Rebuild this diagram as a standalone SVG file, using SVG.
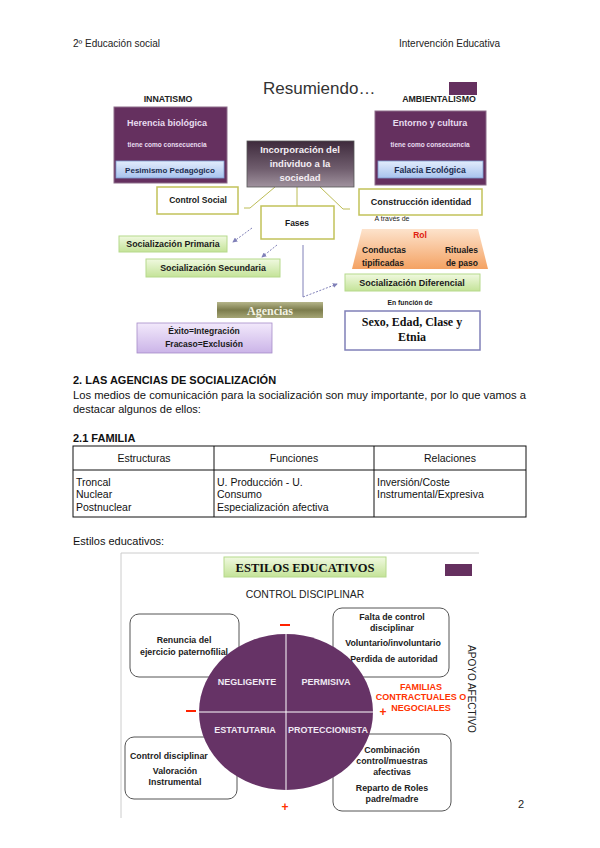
<svg xmlns="http://www.w3.org/2000/svg" width="600" height="848" viewBox="0 0 600 848">
<defs>
<linearGradient id="gBlue" x1="0" y1="0" x2="0" y2="1"><stop offset="0" stop-color="#e2ecfc"/><stop offset="1" stop-color="#a8c3ee"/></linearGradient>
<linearGradient id="gCenter" x1="0" y1="0" x2="0" y2="1"><stop offset="0" stop-color="#3e2a3c"/><stop offset="0.6" stop-color="#6f5d6d"/><stop offset="1" stop-color="#a0929e"/></linearGradient>
<linearGradient id="gGreen" x1="0" y1="0" x2="0" y2="1"><stop offset="0" stop-color="#f0f9e0"/><stop offset="1" stop-color="#c4e398"/></linearGradient>
<linearGradient id="gOlive" x1="0" y1="0" x2="0" y2="1"><stop offset="0" stop-color="#b5b58a"/><stop offset="0.5" stop-color="#7c7c4c"/><stop offset="1" stop-color="#a5a575"/></linearGradient>
<linearGradient id="gLav" x1="0" y1="0" x2="0" y2="1"><stop offset="0" stop-color="#f2e9fb"/><stop offset="1" stop-color="#cbb4e8"/></linearGradient>
<linearGradient id="gOrange" x1="0" y1="0" x2="0" y2="1"><stop offset="0" stop-color="#fde3cc"/><stop offset="1" stop-color="#f4a263"/></linearGradient>
<marker id="arr" viewBox="0 0 6 6" refX="5" refY="3" markerWidth="5" markerHeight="5" orient="auto"><path d="M0,0 L6,3 L0,6 z" fill="#8080b8"/></marker>
<style>
.sans{font-family:"Liberation Sans",Arial,sans-serif;}
.serif{font-family:"Liberation Serif","Times New Roman",serif;}
.hdr{font-size:10px;fill:#222;}
.body{font-size:11px;fill:#111;}
.b{font-weight:bold;}
.purple{fill:#65305f;stroke:#8d6c8a;stroke-width:1;}
.wt{fill:#e8dcef;font-weight:bold;}
.dk{fill:#1a1a1a;font-weight:bold;}
.olivebox{fill:#fff;stroke:#c2c25a;stroke-width:1.5;}
.greenbox{fill:url(#gGreen);stroke:#b6d98c;stroke-width:1;}
.conn{stroke:#bcbc55;stroke-width:1;fill:none;}
.dash{stroke:#8080b8;stroke-width:1;stroke-dasharray:2,1.5;fill:none;}
.vline{stroke:#8080b8;stroke-width:1;fill:none;}
.rbox{fill:#fff;stroke:#555;stroke-width:1;}
.rt{font-size:8.8px;fill:#222;font-weight:bold;}
.red{fill:#ff3300;font-weight:bold;}
.cell{font-size:10.5px;fill:#111;}
</style>
</defs>

<!-- page header -->
<g id="header" class="sans hdr">
<text x="73" y="47">2º Educación social</text>
<text x="399" y="47">Intervención Educativa</text>
</g>

<!-- top diagram -->
<text x="263" y="94" class="sans" font-size="17" fill="#333">Resumiendo…</text>
<text x="168" y="102" class="sans b" font-size="8.8" fill="#222" text-anchor="middle">INNATISMO</text>
<text x="439" y="102" class="sans b" font-size="8.8" fill="#222" text-anchor="middle">AMBIENTALISMO</text>
<rect x="449" y="82" width="28" height="13" fill="#65305f"/>

<g id="connectors">
<polyline class="conn" points="275,187 250,208 244,208"/>
<line class="conn" x1="297" y1="187" x2="297" y2="206"/>
<polyline class="conn" points="320,187 343,209 350,209"/>
<line class="dash" x1="252" y1="228" x2="233" y2="242" marker-end="url(#arr)"/>
<line class="dash" x1="277" y1="245" x2="262" y2="257" marker-end="url(#arr)"/>
<line class="vline" x1="303" y1="245" x2="303" y2="297"/>
<line class="dash" x1="303" y1="297" x2="337" y2="284" marker-end="url(#arr)"/>
</g>

<g id="innatismo">
<rect class="purple" x="114" y="107" width="113" height="76"/>
<text x="167" y="126" class="sans wt" font-size="9" text-anchor="middle">Herencia biológica</text>
<text x="167" y="147" class="sans" font-size="6.5" fill="#e8dcef" font-weight="bold" text-anchor="middle">tiene como consecuencia</text>
<rect x="116" y="161" width="108" height="17" fill="url(#gBlue)" stroke="#7d9dd0" stroke-width="0.8"/>
<text x="170" y="173" class="sans" font-size="8" font-weight="bold" fill="#1c2d50" text-anchor="middle">Pesimismo Pedagógico</text>
</g>

<g id="ambientalismo">
<rect class="purple" x="375" y="111" width="111" height="74"/>
<text x="430" y="126" class="sans wt" font-size="9" text-anchor="middle">Entorno y cultura</text>
<text x="430" y="147" class="sans" font-size="6.5" fill="#e8dcef" font-weight="bold" text-anchor="middle">tiene como consecuencia</text>
<rect x="378" y="161" width="105" height="17" fill="url(#gBlue)" stroke="#7d9dd0" stroke-width="0.8"/>
<text x="430" y="173" class="sans" font-size="8.5" font-weight="bold" fill="#1c2d50" text-anchor="middle">Falacia Ecológica</text>
</g>

<g id="incorporacion">
<rect x="247" y="141" width="107" height="46" fill="url(#gCenter)" stroke="#555" stroke-width="0.8"/>
<text x="300" y="153" class="sans b" font-size="9.5" fill="#f4eef4" text-anchor="middle">Incorporación del</text>
<text x="300" y="167" class="sans b" font-size="9.5" fill="#f4eef4" text-anchor="middle">individuo a la</text>
<text x="300" y="181" class="sans b" font-size="9.5" fill="#f4eef4" text-anchor="middle">sociedad</text>
</g>

<g id="control-social">
<rect class="olivebox" x="157" y="187" width="81" height="27"/>
<text x="198" y="203" class="sans dk" font-size="8.5" text-anchor="middle">Control Social</text>
</g>

<g id="fases">
<rect class="olivebox" x="261" y="206" width="73" height="33"/>
<text x="297" y="226" class="sans dk" font-size="8.5" text-anchor="middle">Fases</text>
</g>

<g id="construccion">
<rect class="olivebox" x="359" y="189" width="123" height="26"/>
<text x="421" y="205" class="sans dk" font-size="9" text-anchor="middle">Construcción identidad</text>
<text x="392" y="221" class="sans" font-size="7" fill="#222" text-anchor="middle">A través de</text>
</g>

<g id="soc-primaria">
<rect class="greenbox" x="119" y="236" width="108" height="16"/>
<text x="173" y="247" class="sans dk" font-size="8.8" text-anchor="middle">Socialización Primaria</text>
</g>

<g id="soc-secundaria">
<rect class="greenbox" x="146" y="259" width="134" height="18"/>
<text x="213" y="271" class="sans dk" font-size="8.8" text-anchor="middle">Socialización Secundaria</text>
</g>

<g id="rol">
<polygon points="362,229 478,229 488,269 352,269" fill="url(#gOrange)"/>
<text x="420" y="238" class="sans" font-size="8.5" font-weight="bold" fill="#e02010" text-anchor="middle">Rol</text>
<text x="362" y="253" class="sans dk" font-size="8.5">Conductas</text>
<text x="362" y="266" class="sans dk" font-size="8.5">tipificadas</text>
<text x="478" y="253" class="sans dk" font-size="8.5" text-anchor="end">Rituales</text>
<text x="478" y="266" class="sans dk" font-size="8.5" text-anchor="end">de paso</text>
</g>

<g id="soc-diferencial">
<rect class="greenbox" x="345" y="274" width="135" height="17"/>
<text x="412" y="286" class="sans dk" font-size="9" text-anchor="middle">Socialización Diferencial</text>
<text x="410" y="305" class="sans" font-size="6.8" fill="#222" font-weight="bold" text-anchor="middle">En función de</text>
</g>

<g id="agencias">
<rect x="217" y="302" width="106" height="16" fill="url(#gOlive)"/>
<text x="270" y="314.5" class="serif b" font-size="12" fill="#f2f2e4" text-anchor="middle">Agencias</text>
</g>

<g id="exito">
<rect x="137" y="323" width="135" height="30" fill="url(#gLav)" stroke="#a68cc8" stroke-width="0.8"/>
<text x="204" y="334" class="sans dk" font-size="8.5" text-anchor="middle">Éxito=Integración</text>
<text x="204" y="347" class="sans dk" font-size="8.5" text-anchor="middle">Fracaso=Exclusión</text>
</g>

<g id="sexo">
<rect x="345" y="311" width="135" height="39" fill="#fff" stroke="#8080b8" stroke-width="1.5"/>
<text x="412" y="326" class="serif b" font-size="12" fill="#111" text-anchor="middle">Sexo, Edad, Clase y</text>
<text x="412" y="341" class="serif b" font-size="12" fill="#111" text-anchor="middle">Etnia</text>
</g>

<!-- text section -->
<g id="text-section" class="sans">
<text x="73" y="384" font-size="11" font-weight="bold" fill="#111">2. LAS AGENCIAS DE SOCIALIZACIÓN</text>
<text x="73" y="399" class="body" textLength="453" lengthAdjust="spacingAndGlyphs">Los medios de comunicación para la socialización son muy importante, por lo que vamos a</text>
<text x="73" y="413" class="body">destacar algunos de ellos:</text>
<text x="73" y="442" font-size="11" font-weight="bold" fill="#111">2.1 FAMILIA</text>
</g>

<g id="table" class="sans">
<rect x="73" y="446" width="453" height="71" fill="none" stroke="#111" stroke-width="1"/>
<line x1="73" y1="470" x2="526" y2="470" stroke="#111" stroke-width="1"/>
<line x1="214" y1="446" x2="214" y2="517" stroke="#111" stroke-width="1"/>
<line x1="374" y1="446" x2="374" y2="517" stroke="#111" stroke-width="1"/>
<text x="144" y="462" class="cell" text-anchor="middle">Estructuras</text>
<text x="294" y="462" class="cell" text-anchor="middle">Funciones</text>
<text x="450" y="462" class="cell" text-anchor="middle">Relaciones</text>
<text x="76" y="486" class="cell">Troncal</text>
<text x="76" y="498" class="cell">Nuclear</text>
<text x="76" y="511" class="cell">Postnuclear</text>
<text x="217" y="486" class="cell">U. Producción - U.</text>
<text x="217" y="498" class="cell">Consumo</text>
<text x="217" y="511" class="cell">Especialización afectiva</text>
<text x="377" y="486" class="cell">Inversión/Coste</text>
<text x="377" y="498" class="cell">Instrumental/Expresiva</text>
</g>

<text x="73" y="545" class="sans body">Estilos educativos:</text>

<!-- bottom diagram -->
<g id="estilos-frame">
<line x1="121" y1="553" x2="479" y2="553" stroke="#ccc" stroke-width="1"/>
<line x1="121" y1="553" x2="121" y2="818" stroke="#ccc" stroke-width="1"/>
</g>

<g id="estilos-title">
<rect x="224" y="557" width="162" height="20" fill="url(#gGreen)" stroke="#b6d98c" stroke-width="1"/>
<text x="305" y="572" class="serif b" font-size="12.5" fill="#111" text-anchor="middle">ESTILOS EDUCATIVOS</text>
</g>
<rect x="445" y="564" width="27" height="12" fill="#65305f"/>
<text x="305" y="598" class="sans" font-size="10.4" fill="#222" text-anchor="middle">CONTROL DISCIPLINAR</text>

<g id="box-negligente">
<rect class="rbox" x="130" y="614" width="109" height="63" rx="9"/>
<text x="184" y="643" class="sans rt" text-anchor="middle">Renuncia del</text>
<text x="184" y="655" class="sans rt" text-anchor="middle">ejercicio paternofilial</text>
</g>
<g id="box-permisiva">
<rect class="rbox" x="333" y="608" width="116" height="69" rx="9"/>
<text x="392" y="620" class="sans rt" text-anchor="middle">Falta de control</text>
<text x="392" y="631" class="sans rt" text-anchor="middle">disciplinar</text>
<text x="393" y="646" class="sans rt" text-anchor="middle">Voluntario/involuntario</text>
<text x="394" y="662" class="sans rt" text-anchor="middle">Perdida de autoridad</text>
</g>
<g id="box-estatutaria">
<rect class="rbox" x="125" y="737" width="112" height="62" rx="9"/>
<text x="130" y="759" class="sans rt">Control disciplinar</text>
<text x="175" y="774" class="sans rt" text-anchor="middle">Valoración</text>
<text x="175" y="785" class="sans rt" text-anchor="middle">Instrumental</text>
</g>
<g id="box-proteccionista">
<rect class="rbox" x="333" y="734" width="118" height="77" rx="9"/>
<text x="392" y="753" class="sans rt" text-anchor="middle">Combinación</text>
<text x="392" y="764" class="sans rt" text-anchor="middle">control/muestras</text>
<text x="392" y="775" class="sans rt" text-anchor="middle">afectivas</text>
<text x="392" y="791" class="sans rt" text-anchor="middle">Reparto de Roles</text>
<text x="392" y="802" class="sans rt" text-anchor="middle">padre/madre</text>
</g>

<g id="circle">
<ellipse cx="286" cy="712" rx="87" ry="78" fill="#663366"/>
<line x1="286" y1="634" x2="286" y2="790" stroke="#fff" stroke-width="1"/>
<line x1="199" y1="712" x2="373" y2="712" stroke="#fff" stroke-width="1"/>
<text x="247" y="685" class="sans b" font-size="9" fill="#f0eaf4" text-anchor="middle">NEGLIGENTE</text>
<text x="326" y="685" class="sans b" font-size="9" fill="#f0eaf4" text-anchor="middle">PERMISIVA</text>
<text x="245" y="733" class="sans b" font-size="9" fill="#f0eaf4" text-anchor="middle">ESTATUTARIA</text>
<text x="328" y="733" class="sans b" font-size="9" fill="#f0eaf4" text-anchor="middle">PROTECCIONISTA</text>
</g>

<g id="signs">
<rect x="280" y="624" width="10" height="2" fill="#ff2200"/>
<rect x="186" y="710" width="10" height="2" fill="#ff2200"/>
<text x="383" y="716" class="sans red" font-size="12" text-anchor="middle" fill="#ff2200">+</text>
<text x="285" y="811" class="sans red" font-size="12" text-anchor="middle" fill="#ff2200">+</text>
</g>

<g id="familias" class="sans">
<text x="421" y="690" class="red" font-size="9" text-anchor="middle">FAMILIAS</text>
<text x="421" y="700" class="red" font-size="9" text-anchor="middle">CONTRACTUALES O</text>
<text x="421" y="711" class="red" font-size="9" text-anchor="middle">NEGOCIALES</text>
</g>

<text transform="translate(468,689) rotate(90)" class="sans" font-size="10" fill="#222" text-anchor="middle">APOYO AFECTIVO</text>

<text x="518" y="808" class="sans" font-size="11" fill="#222">2</text>
</svg>
